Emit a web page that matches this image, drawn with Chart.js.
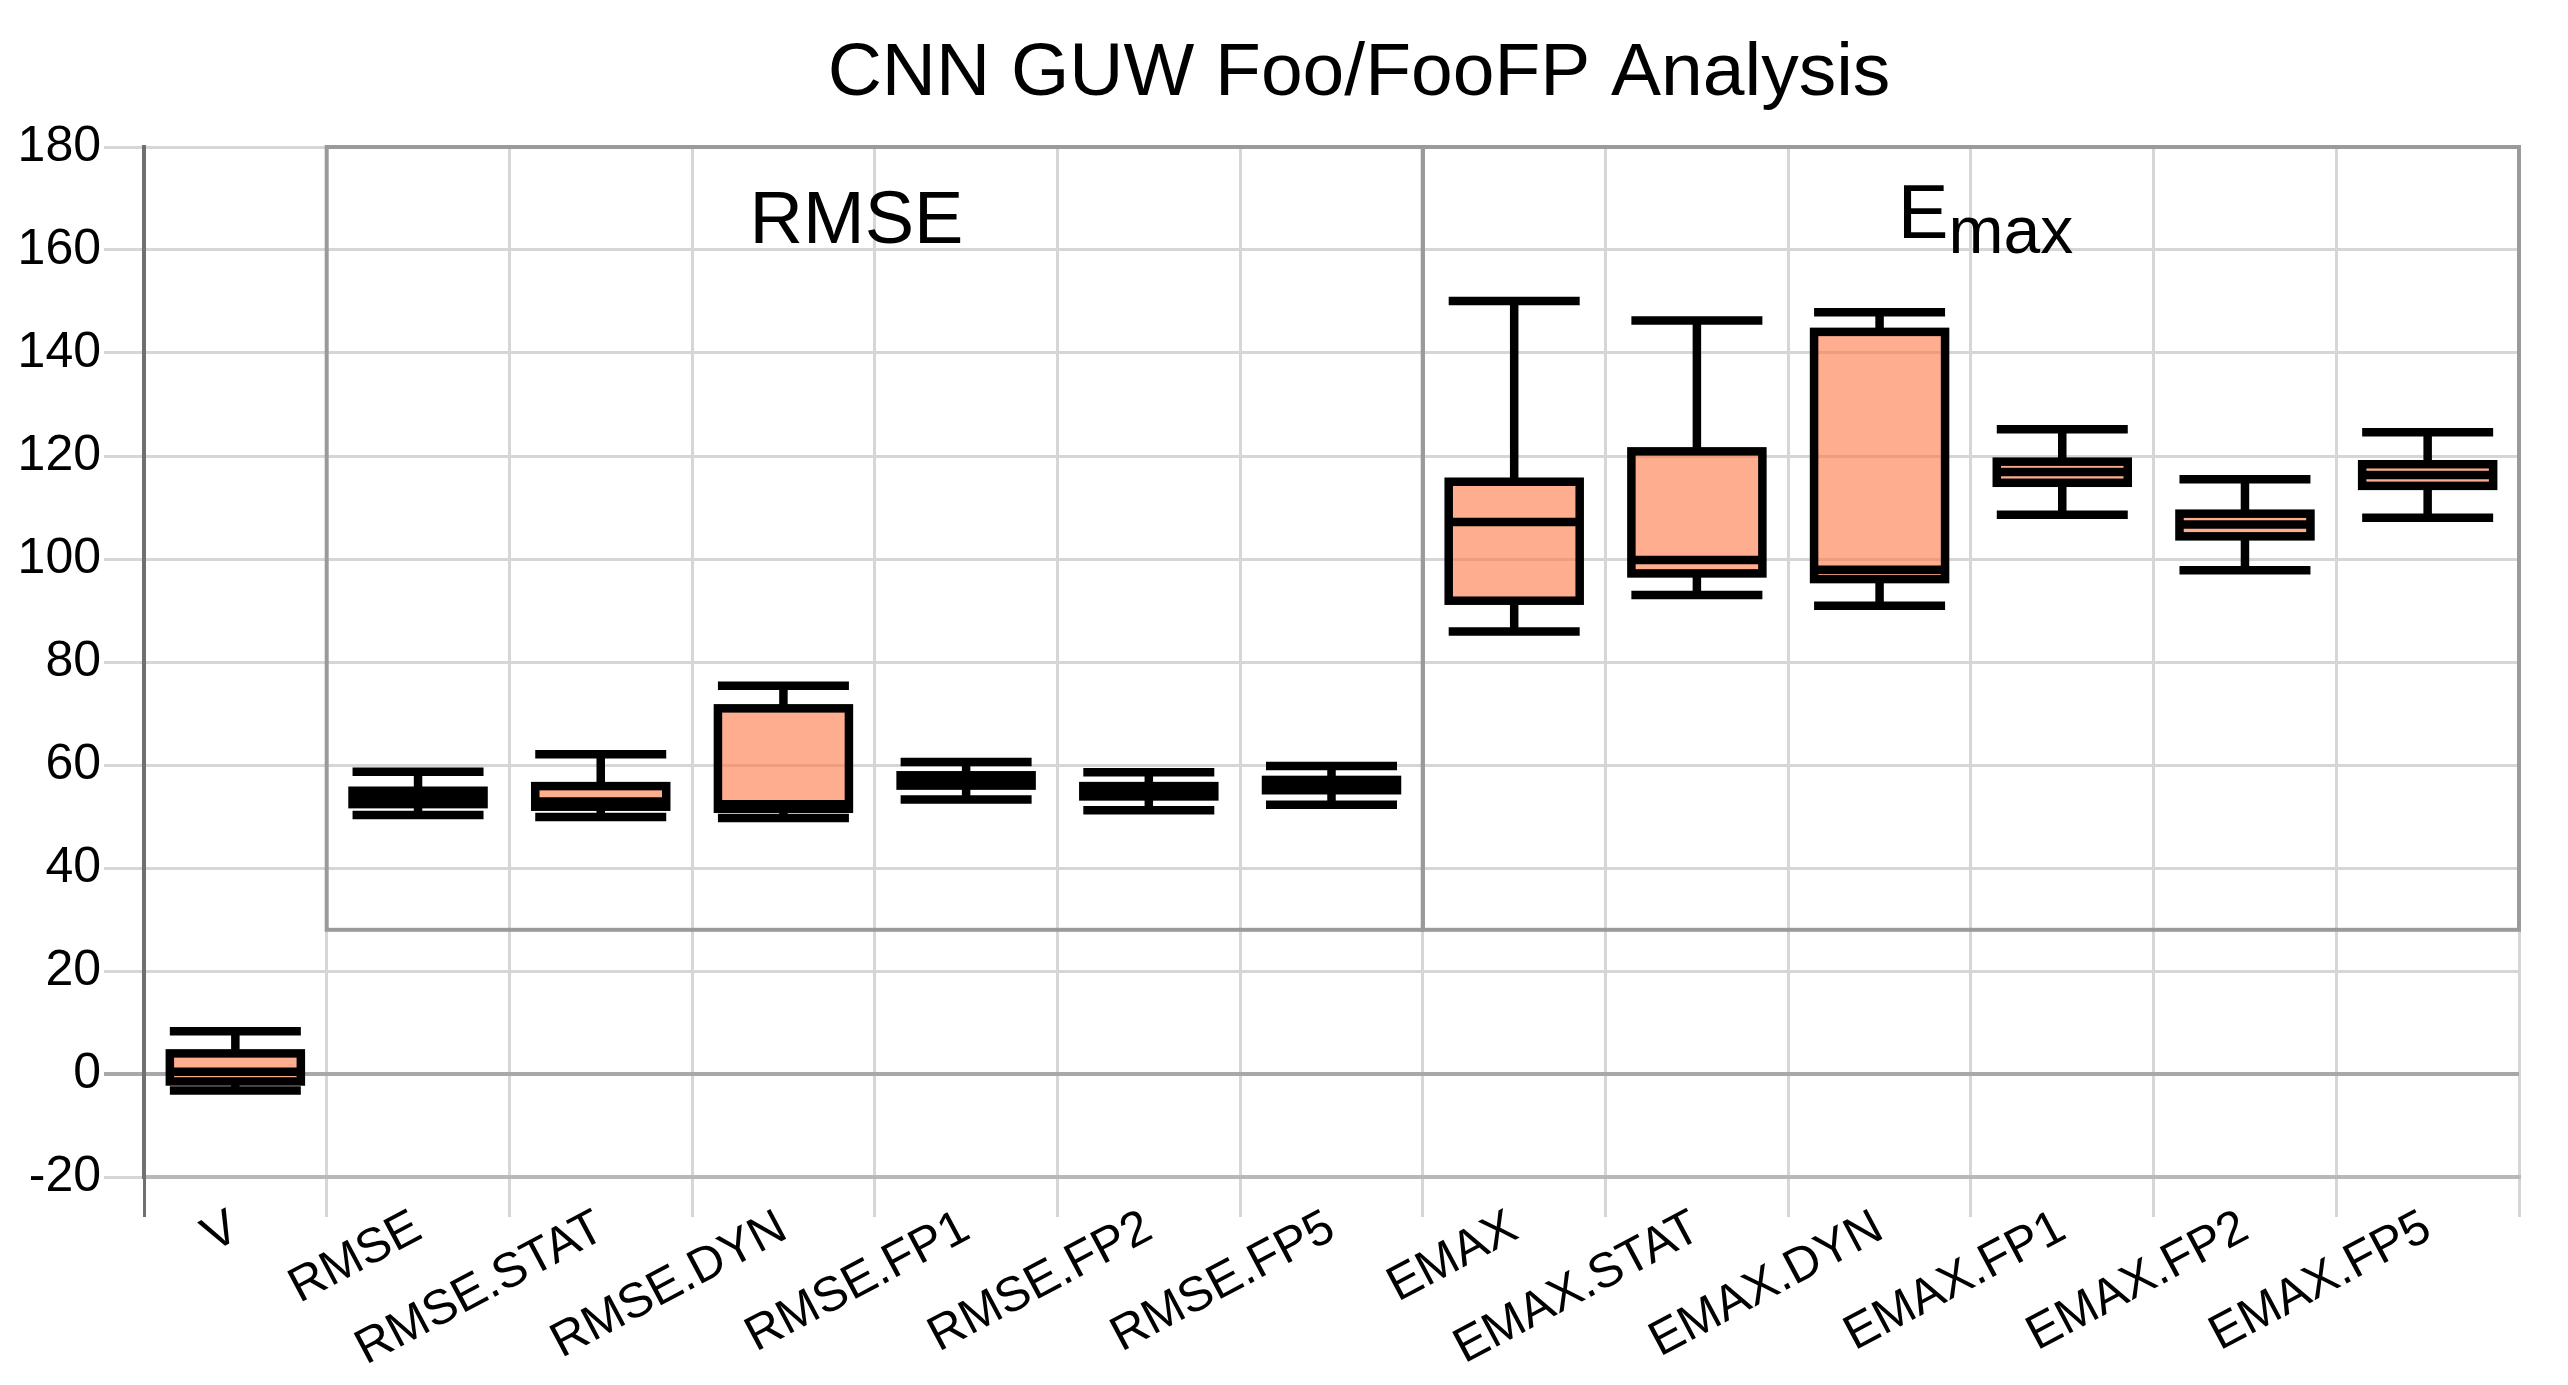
<!DOCTYPE html>
<html lang="en">
<head>
<meta charset="UTF-8">
<title>CNN GUW Foo/FooFP Analysis</title>
<script src="https://cdn.jsdelivr.net/npm/chart.js@4"></script>
<style>
  html, body { margin: 0; padding: 0; background: #fff; }
  #wrap { width: 2568px; height: 1385px; position: relative; }
</style>
</head>
<body>
<div id="wrap"><canvas id="chart"></canvas></div>
<script>
// categories and box plot statistics
const categories = ['V', 'RMSE', 'RMSE.STAT', 'RMSE.DYN', 'RMSE.FP1', 'RMSE.FP2', 'RMSE.FP5',
                    'EMAX', 'EMAX.STAT', 'EMAX.DYN', 'EMAX.FP1', 'EMAX.FP2', 'EMAX.FP5'];
const whiskerLow  = [-3.2, 50.3, 49.9, 49.7, 53.3, 51.2, 52.3,  85.9,  93.0,  90.9, 108.6,  97.8, 108.0];
const quart1      = [-1.45, 52.4, 51.9, 51.5, 56.0, 53.9, 55.1,  91.9,  97.2,  96.1, 114.8, 104.4, 114.2];
const medians     = [0.45, 53.7, 52.9, 52.4, 57.0, 54.9, 56.1, 107.2,  99.8,  97.9, 116.9, 106.7, 116.3];
const quart3      = [4.0,  55.0, 55.9, 71.0, 58.0, 55.9, 57.1, 115.0, 120.9, 144.1, 118.9, 108.8, 118.4];
const whiskerHigh = [8.3,  58.7, 62.1, 75.4, 60.6, 58.6, 59.8, 150.1, 146.3, 147.9, 125.2, 115.5, 124.6];

const yTickValues = [-20, 0, 20, 40, 60, 80, 100, 120, 140, 160, 180];

// group frames (category index ranges) and their captions
const groupStart  = [1, 7];
const groupEnd    = [6, 12];
const groupBottom = 28;
const groupTop    = 180;

const FONT = '"Liberation Sans", Arial, sans-serif';
const BOX_FILL = 'rgba(255, 118, 68, 0.6)';

const boxPlot = {
  id: 'boxPlot',
  beforeDatasetsDraw(chart) {
    const { ctx, scales: { x, y } } = chart;
    ctx.save();
    ctx.strokeStyle = '#9a9a9a';
    ctx.lineWidth = 4;
    groupStart.forEach((s, i) => {
      const l = x.getPixelForValue(s - 0.5);
      const r = x.getPixelForValue(groupEnd[i] + 0.5);
      const t = y.getPixelForValue(groupTop);
      const b = y.getPixelForValue(groupBottom);
      ctx.strokeRect(l, t, r - l, b - t);
    });
    ctx.restore();
  },
  afterDatasetsDraw(chart) {
    const { ctx, scales: { y } } = chart;
    const meta = chart.getDatasetMeta(0);
    ctx.save();
    ctx.strokeStyle = '#000';
    ctx.lineWidth = 8.5;
    ctx.lineCap = 'butt';
    ctx.lineJoin = 'miter';
    const line = (x1, y1, x2, y2) => {
      ctx.beginPath(); ctx.moveTo(x1, y1); ctx.lineTo(x2, y2); ctx.stroke();
    };
    meta.data.forEach((bar, i) => {
      const cx = bar.x, hw = bar.width / 2;
      const yLo = y.getPixelForValue(whiskerLow[i]);
      const yQ1 = y.getPixelForValue(quart1[i]);
      const yMd = y.getPixelForValue(medians[i]);
      const yQ3 = y.getPixelForValue(quart3[i]);
      const yHi = y.getPixelForValue(whiskerHigh[i]);
      // whiskers
      line(cx, yQ3, cx, yHi);
      line(cx, yQ1, cx, yLo);
      line(cx - hw, yHi, cx + hw, yHi);
      line(cx - hw, yLo, cx + hw, yLo);
      // box outline and median
      ctx.strokeRect(cx - hw, yQ3, hw * 2, yQ1 - yQ3);
      line(cx - hw, yMd, cx + hw, yMd);
    });
    ctx.restore();
  },
  afterDraw(chart) {
    const { ctx, scales: { x, y } } = chart;
    ctx.save();
    ctx.fillStyle = '#000';
    // title
    ctx.font = '75px ' + FONT;
    ctx.textAlign = 'center';
    ctx.textBaseline = 'alphabetic';
    ctx.fillText('CNN GUW Foo/FooFP Analysis', 1359, 95);
    // group captions
    ctx.font = '74px ' + FONT;
    ctx.fillText('RMSE', x.getPixelForValue(3.4), y.getPixelForValue(161.3));
    ctx.font = '76px ' + FONT;
    const eW = ctx.measureText('E').width;
    ctx.font = '66px "Liberation Sans Narrow", ' + FONT;
    const mW = ctx.measureText('max').width;
    const cx = x.getPixelForValue(9.58);
    const left = cx - (eW + mW) / 2;
    ctx.textAlign = 'left';
    ctx.font = '76px ' + FONT;
    ctx.fillText('E', left, y.getPixelForValue(162.4));
    ctx.font = '66px "Liberation Sans Narrow", ' + FONT;
    ctx.fillText('max', left + eW, y.getPixelForValue(159.4));
    ctx.restore();
  }
};

new Chart(document.getElementById('chart'), {
  type: 'bar',
  data: {
    labels: categories,
    datasets: [{
      label: 'IQR',
      data: quart1.map((v, i) => [v, quart3[i]]),
      backgroundColor: BOX_FILL,
      borderWidth: 0,
      barPercentage: 0.717,
      categoryPercentage: 1.0
    }]
  },
  options: {
    responsive: true,
    maintainAspectRatio: false,
    animation: false,
    devicePixelRatio: 1,
    layout: { padding: { top: 147, left: 0, right: 49, bottom: 0 } },
    plugins: {
      legend: { display: false },
      title: { display: false },
      tooltip: { enabled: false }
    },
    scales: {
      x: {
        offset: true,
        grid: {
          offset: true,
          color: ctx => ctx.index === 0 ? '#707070' : '#d6d6d6',
          lineWidth: 3,
          tickLength: 40
        },
        border: { color: '#b8b8b8', width: 4 },
        ticks: {
          color: '#000',
          font: { family: FONT, size: 49 },
          minRotation: 28,
          maxRotation: 28,
          autoSkip: false,
          padding: -18
        },
        afterFit: s => { s.height = 208; }
      },
      y: {
        min: -20,
        max: 180,
        afterBuildTicks: s => { s.ticks = yTickValues.map(v => ({ value: v })); },
        grid: {
          color: ctx => (ctx.tick && ctx.tick.value === 0) ? '#a8a8a8' : '#d6d6d6',
          lineWidth: ctx => (ctx.tick && ctx.tick.value === 0) ? 4 : 3,
          tickLength: 40
        },
        border: { color: '#707070', width: 4 },
        ticks: {
          color: '#000',
          font: { family: FONT, size: 50 },
          padding: 3
        },
        afterFit: s => { s.width = 144; }
      }
    }
  },
  plugins: [boxPlot]
});
</script>
</body>
</html>
